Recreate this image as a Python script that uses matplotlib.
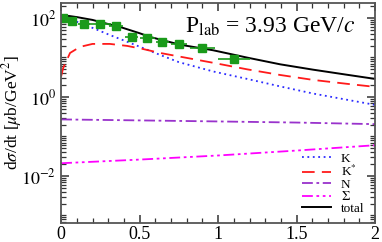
import matplotlib
matplotlib.use("Agg")
import matplotlib.pyplot as plt
from matplotlib.ticker import FixedLocator, FixedFormatter, NullFormatter

plt.rcParams["font.family"] = ["Liberation Serif", "DejaVu Serif"]
plt.rcParams["mathtext.fontset"] = "stix"

# curves
t_total = [0, 0.05, 0.1, 0.2, 0.3, 0.376, 0.5, 0.567, 0.758, 0.968, 1.185, 1.395, 1.605, 1.82, 2.0]
v_total = [112, 112, 105, 89, 70, 59, 41, 33, 21, 15.2, 9.9, 6.7, 4.9, 3.65, 2.86]

t_kstar = [0, 0.013, 0.057, 0.12, 0.2, 0.31, 0.42, 0.52, 0.63, 0.75, 0.97, 1.185, 1.395, 1.605, 1.82, 2.0]
v_kstar = [3.3, 5.4, 13, 18.5, 22, 22, 19.6, 16.4, 13, 10.6, 7.3, 5.0, 3.6, 2.7, 2.15, 1.8]

t_k = [0, 0.12, 0.2, 0.31, 0.42, 0.52, 0.63, 0.75, 0.97, 1.185, 1.395, 1.605, 1.82, 2.0]
v_k = [110, 75, 56, 37, 25, 17.4, 11.6, 7.6, 4.4, 2.86, 1.85, 1.22, 0.85, 0.63]

t_n = [0, 0.5, 1.0, 1.5, 2.0]
v_n = [0.27, 0.255, 0.24, 0.225, 0.205]

t_sig = [0, 0.5, 1.0, 1.5, 2.0]
v_sig = [0.021, 0.026, 0.033, 0.044, 0.06]

# data points
t_data = [0.013, 0.07, 0.146, 0.25, 0.35, 0.45, 0.55, 0.645, 0.75, 0.90, 1.10]
v_data = [100, 84, 71, 71, 63, 33, 31, 24.6, 22, 17.4, 9.2]
t_err = [0.01, 0.03, 0.04, 0.07, 0.045, 0.04, 0.045, 0.04, 0.05, 0.08, 0.1]
v_err = [6, 5, 4, 4, 4, 3, 3, 2.5, 2, 2, 2]

fig = plt.figure(figsize=(3.82, 2.42), dpi=100)
ax = fig.add_axes([0.16, 0.079, 0.822, 0.909])

ax.semilogy(t_k, v_k, color="#2b2bff", ls=(0, (1, 2)), lw=1.3, label="K")
ax.semilogy(t_kstar, v_kstar, color="#ff1a1a", ls=(0, (7, 4)), lw=1.3, label="K$^{*}$")
ax.semilogy(t_n, v_n, color="#9932cc", ls=(0, (6, 2, 1.5, 2)), lw=1.3, label="N")
ax.semilogy(t_sig, v_sig, color="#ff00ff", ls=(0, (6, 2, 1.5, 2, 1.5, 2)), lw=1.3, label=r"$\Sigma$")
ax.semilogy(t_total, v_total, color="black", lw=1.4, label="total")
ax.errorbar(t_data, v_data, xerr=t_err, yerr=v_err, fmt="s", color="#1a9a1a",
            ms=5.5, elinewidth=1.2, capsize=0)

ax.set_xlim(0, 2)
ax.set_ylim(6.5e-4, 240)

ax.set_xticks([0, 0.5, 1, 1.5, 2])
ax.set_xticklabels(["0", "0.5", "1", "1.5", "2"])
ax.set_xticks([i / 10 for i in range(21)], minor=True)

ax.yaxis.set_major_locator(FixedLocator([1e-2, 1, 1e2]))
ax.yaxis.set_major_formatter(FixedFormatter([r"$10^{-2}$", r"$10^{0}$", r"$10^{2}$"]))
minor_y = [k * 10.0 ** e for e in range(-4, 3) for k in range(1, 10)]
minor_y = [m for m in minor_y if m not in (1e-2, 1, 1e2)]
ax.yaxis.set_minor_locator(FixedLocator(minor_y))
ax.yaxis.set_minor_formatter(NullFormatter())

for s in ax.spines.values():
    s.set_color("#555555")
    s.set_linewidth(1.3)
ax.tick_params(which="both", direction="in", top=True, right=True, color="#333333", labelsize=13)
ax.tick_params(which="major", length=6, width=1.1)
ax.tick_params(which="minor", length=3.5, width=0.9)
ax.tick_params(axis="x", pad=2)

ax.set_ylabel(r"d$\sigma$/dt [$\mu$b/GeV$^2$]", fontsize=12.5)
ax.yaxis.set_label_coords(-0.117, 0.5)

ax.text(0.936, 0.89, r"P$_{\rm lab}$ = 3.93 GeV/$c$", transform=ax.transAxes,
        ha="right", va="center", fontsize=17)

ax.legend(loc="lower right", frameon=False, fontsize=9.5, handlelength=2.2,
          handletextpad=0.7, labelspacing=-0.05, borderaxespad=0.2,
          bbox_to_anchor=(0.99, 0.0))

fig.savefig("out.png", dpi=100)
